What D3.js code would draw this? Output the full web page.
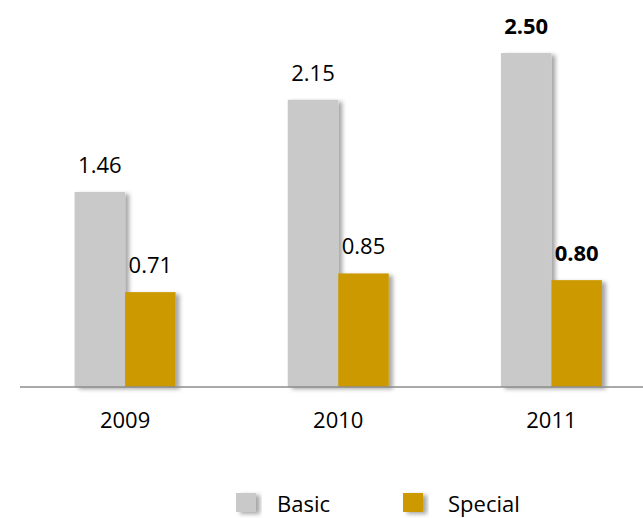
<!DOCTYPE html>
<html><head><meta charset="utf-8">
<script src="https://cdn.jsdelivr.net/npm/d3@7"></script>
<style>body{margin:0;background:#fff}svg{display:block}text{font-family:"Open Sans",Lato,sans-serif;fill:#000}</style>
</head><body><svg id="c" width="643" height="518"></svg>
<script>
const years = ["2009","2010","2011"];
const seriesNames = ["Basic","Special"];
const basic = [1.46, 2.15, 2.50];
const special = [0.71, 0.85, 0.80];
const boldYears = ["2011"];
const colors = ["#c9c9c9","#cc9900"];

const svg = d3.select("#c");
const defs = svg.append("defs");
const f = defs.append("filter").attr("id","sh").attr("x","-20%").attr("y","-20%").attr("width","150%").attr("height","150%");
f.append("feDropShadow").attr("dx",4).attr("dy",2).attr("stdDeviation",2).attr("flood-color","#000").attr("flood-opacity",0.35);

const x = d3.scaleBand().domain(years).range([18.5, 658]).paddingInner(0).paddingOuter(0);
const xs = d3.scaleBand().domain(seriesNames).range([0, 101]).paddingOuter(0).paddingInner(0);
const y = d3.scaleLinear().domain([0, 2.5]).range([387, 53]);

const data = years.map((yr,i)=>({year:yr, vals:[basic[i], special[i]]}));
const barW = xs.bandwidth();
const g = svg.append("g");
data.forEach(d=>{
  const cx = x(d.year) + x.bandwidth()/2;
  const x0 = cx - barW;
  d.vals.forEach((v,j)=>{
    const bx = x0 + xs(seriesNames[j]);
    g.append("rect").attr("x",bx).attr("y",y(v)).attr("width",barW).attr("height",y(0)-y(v))
      .attr("fill",colors[j]).attr("filter","url(#sh)");
  });
});
data.forEach(d=>{
  const cx = x(d.year) + x.bandwidth()/2;
  const x0 = cx - barW;
  d.vals.forEach((v,j)=>{
    const bx = x0 + xs(seriesNames[j]);
    g.append("text").attr("x",bx+barW/2).attr("y",y(v)-19).attr("text-anchor","middle")
      .attr("font-size",22).attr("font-weight",boldYears.includes(d.year)?"bold":"normal")
      .text(v.toFixed(2));
  });
});

// axis
const ax = svg.append("g").attr("transform","translate(0,387)");
ax.append("line").attr("x1",20).attr("x2",643).attr("y1",0).attr("y2",0).attr("stroke","#8c8c8c").attr("stroke-width",1.5);
const axis = d3.axisBottom(x).tickSize(0).tickPadding(0);
const axg = svg.append("g").attr("transform","translate(0,387)").call(axis);
axg.select(".domain").remove();
axg.selectAll("text").attr("font-size",22).attr("dy",0).attr("y",41).style("font-family",'"Open Sans",Lato,sans-serif').attr("fill","#000");

// legend
const legX = [236, 403];
const lg = svg.append("g");
seriesNames.forEach((s,i)=>{
  lg.append("rect").attr("x",legX[i]).attr("y",493).attr("width",20).attr("height",19).attr("fill",colors[i]).attr("filter","url(#sh)");
  lg.append("text").attr("x",legX[i]+41+(i===1?4:0)).attr("y",512).attr("font-size",22).text(s);
});
</script></body></html>
